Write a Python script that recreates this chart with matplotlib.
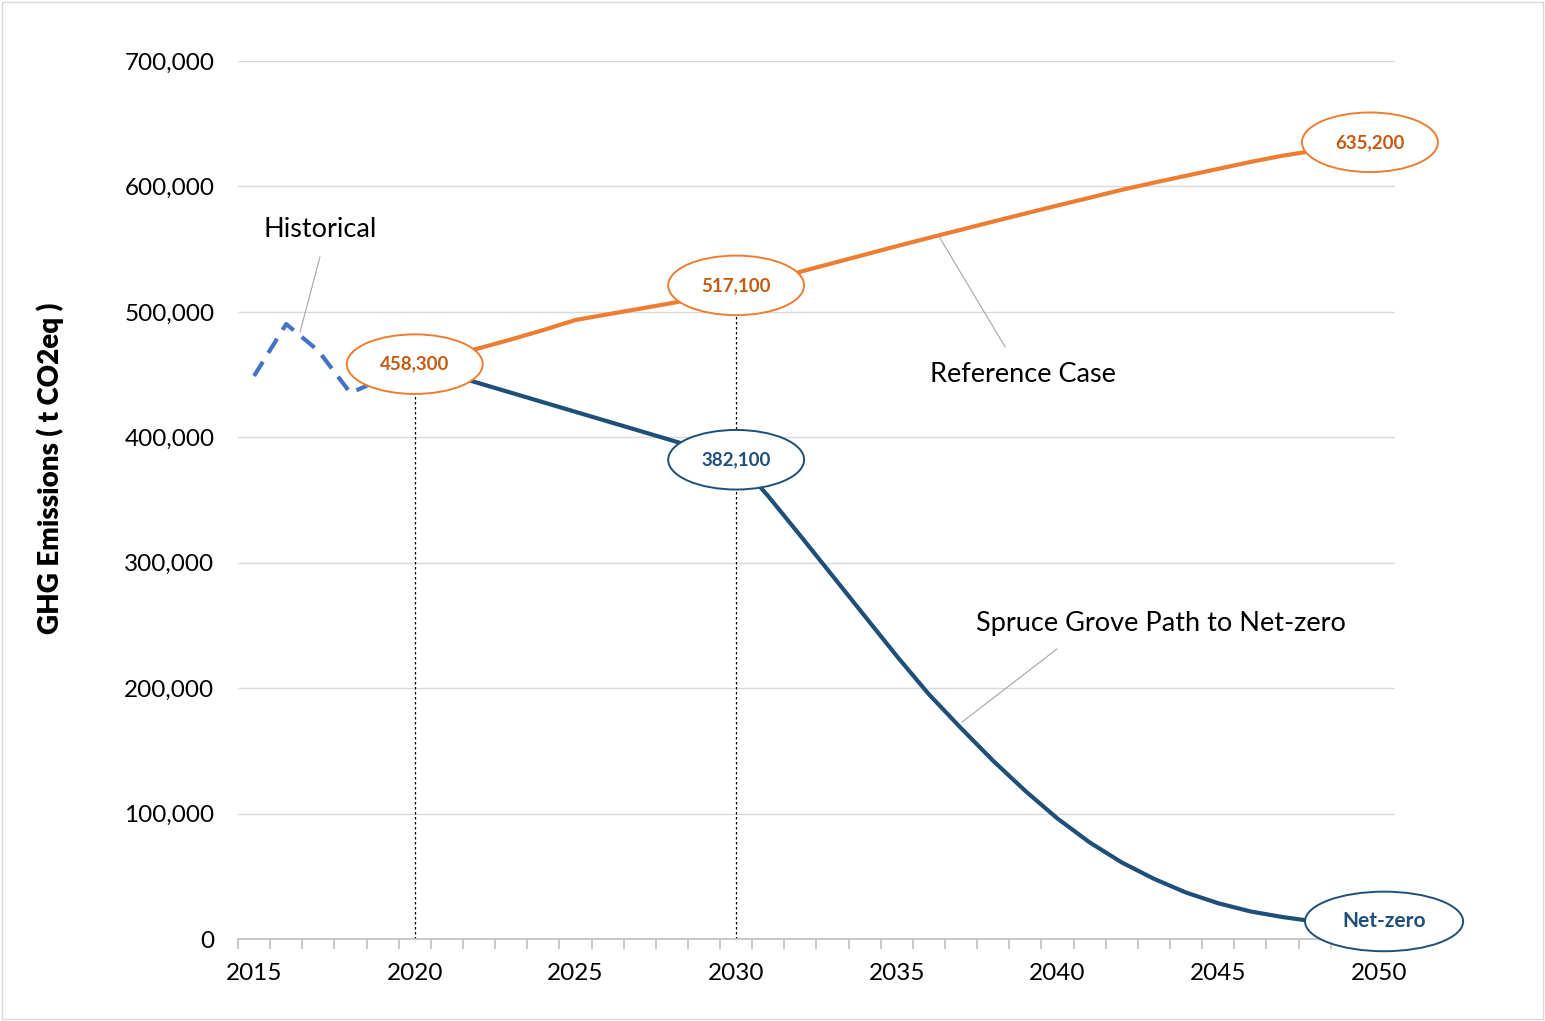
import matplotlib.pyplot as plt
import numpy as np
from matplotlib.patches import Ellipse, Rectangle
from matplotlib.ticker import FuncFormatter, MultipleLocator

plt.rcParams["font.family"] = ["Lato", "DejaVu Sans"]

# Emissions in t CO2eq
hist_years = [2015, 2016, 2017, 2018, 2019, 2020]
hist_vals = [448900, 490300, 469000, 435300, 446800, 458300]

ref_years = list(range(2020, 2051))
ref_vals = [458300, 464500, 471000, 478000, 485500, 493500, 498000, 502500,
            507000, 512000, 517100, 524500, 532000, 538800, 545600, 552400,
            559000, 565500, 572000, 578400, 584800, 591000, 597300, 603000,
            608500, 614000, 619500, 624500, 628500, 632000, 635200]

path_years = list(range(2020, 2051))
path_vals = [458300, 450700, 443100, 435500, 427900, 420300, 412700, 405100,
             397500, 389800, 382100, 353000, 321500, 289500, 257500, 225500,
             195000, 168000, 142000, 118000, 96000, 77000, 61000, 48000,
             37000, 28500, 22000, 17500, 14000, 12000, 10500]

orange = "#ED7D31"
orange_txt = "#C55A11"
navy = "#1F4E79"
hist_blue = "#4472C4"

fig = plt.figure(figsize=(15.45, 10.21), dpi=100)
ax = fig.add_axes([238 / 1545, 1 - 939 / 1021, (1395 - 238) / 1545, (939 - 61) / 1021])

# thin frame round the whole chart
fig.patches.append(Rectangle((0.001, 0.002), 0.998, 0.996, transform=fig.transFigure,
                             fill=False, edgecolor="#D9D9D9", lw=1))

ax.plot(hist_years, hist_vals, color=hist_blue, lw=3, ls=(0, (4, 2.5)), zorder=3)
ax.plot(path_years, path_vals, color=navy, lw=3, zorder=3, solid_joinstyle="round")
ax.plot(ref_years, ref_vals, color=orange, lw=3, zorder=3, solid_joinstyle="round")

# drop lines from the 2020 and 2030 values
ax.plot([2020, 2020], [0, ref_vals[0]], color="black", lw=0.9, ls=(0, (2, 2)), zorder=2)
ax.plot([2030, 2030], [0, ref_vals[10]], color="black", lw=0.9, ls=(0, (2, 2)), zorder=2)

# value callouts
def callout(x, y, text, edge, tcolor, w=4.23, h=47500, size=13.5):
    ax.add_patch(Ellipse((x, y), w, h, facecolor="white", edgecolor=edge, lw=1.4,
                         zorder=5, clip_on=False))
    ax.text(x, y, text, ha="center", va="center", fontsize=size, fontweight="bold",
            color=tcolor, zorder=6)

callout(2020, ref_vals[0], f"{ref_vals[0]:,}", orange, orange_txt)
callout(2030, ref_vals[10] + 4000, f"{ref_vals[10]:,}", orange, orange_txt)
callout(2030, path_vals[10], f"{path_vals[10]:,}", navy, navy)
callout(2049.72, ref_vals[-1], f"{ref_vals[-1]:,}", orange, orange_txt)
callout(2050.16, path_vals[-1] + 3500, "Net-zero", navy, navy, w=4.92, size=15)

# series labels with leader lines
lead = "#A6A6A6"
ax.text(2017.05, 566000, "Historical", ha="center", va="center", fontsize=19.5)
ax.plot([2017.05, 2016.43], [543700, 483900], color=lead, lw=0.8, zorder=2)
ax.text(2038.93, 449700, "Reference Case", ha="center", va="center", fontsize=19.5)
ax.plot([2038.37, 2036.34], [472000, 558900], color=lead, lw=0.8, zorder=2)
ax.text(2043.22, 251900, "Spruce Grove Path to Net-zero", ha="center", va="center", fontsize=19.5)
ax.plot([2039.98, 2037.03], [231200, 173000], color=lead, lw=0.8, zorder=2)

ax.set_xlim(2014.5, 2050.5)
ax.set_ylim(0, 700000)
ax.yaxis.set_major_locator(MultipleLocator(100000))
ax.yaxis.set_major_formatter(FuncFormatter(lambda v, p: f"{int(v):,}"))
ax.xaxis.set_major_locator(MultipleLocator(5))
ax.xaxis.set_minor_locator(MultipleLocator(1, offset=0.5))
ax.tick_params(axis="x", which="major", length=0, pad=17, labelsize=17.5)
ax.tick_params(axis="x", which="minor", length=7, color="#BFBFBF", width=1.2)
ax.tick_params(axis="y", length=0, pad=17, labelsize=17.5)
ax.grid(axis="y", color="#D9D9D9", lw=1)
ax.set_axisbelow(True)
for s in ["top", "right", "left"]:
    ax.spines[s].set_visible(False)
ax.spines["bottom"].set_color("#BFBFBF")
ax.spines["bottom"].set_linewidth(1.2)

fig.text(50 / 1545, 1 - 468 / 1021, "GHG Emissions ( t CO2eq )", rotation=90,
         ha="center", va="center", fontsize=20, fontweight="heavy")

fig.savefig("out.png", dpi=100, facecolor="white")
